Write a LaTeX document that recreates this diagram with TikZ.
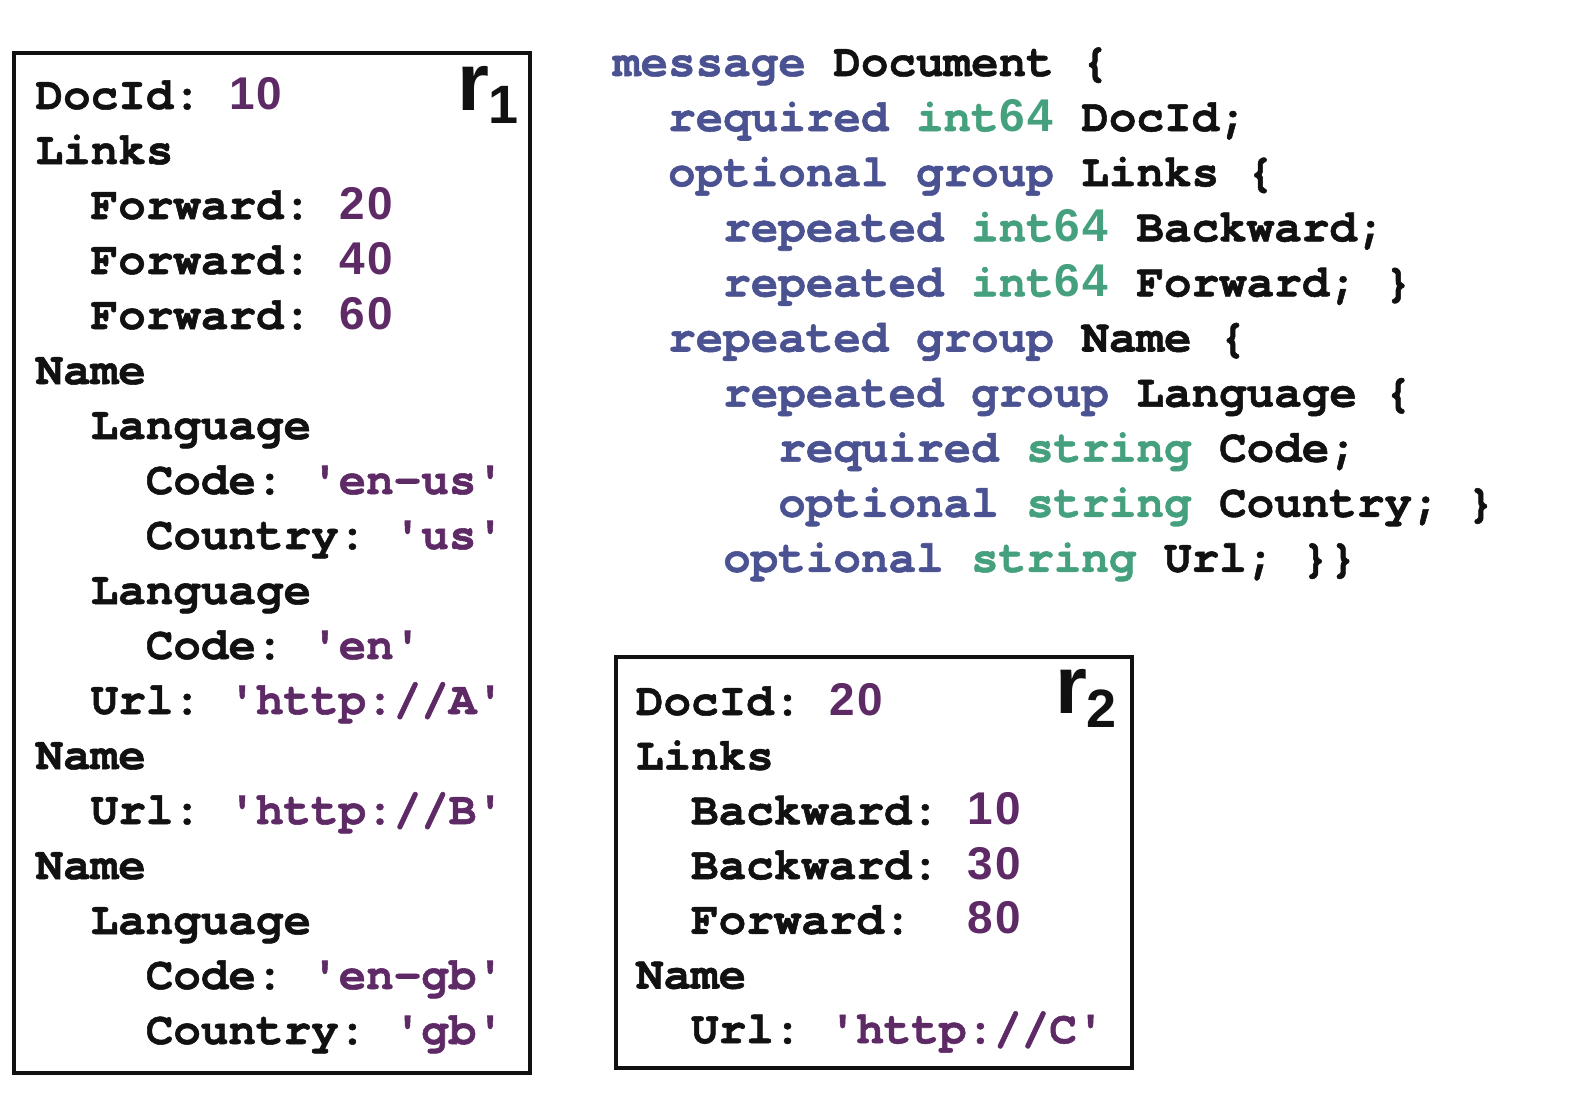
\documentclass[tikz,border=0pt]{standalone}
\usepackage{fontspec}
\IfFontExistsTF{TeX Gyre Cursor}{\newfontfamily\cour{TeX Gyre Cursor}[BoldFeatures={FakeBold=1.2}]}{\newfontfamily\cour{Liberation Mono}}
\newfontfamily\arl{Liberation Sans}
\definecolor{kwc}{HTML}{4A5292}
\definecolor{tyc}{HTML}{45A07E}
\definecolor{vlc}{HTML}{5E2A66}
\definecolor{txc}{HTML}{111111}
\newcommand\dg[1]{\makebox[0.6em][c]{\arl\bfseries #1}}
\newcommand\kw[1]{\textcolor{kwc}{#1}}
\newcommand\ty[1]{\textcolor{tyc}{#1}}
\newcommand\vl[1]{\textcolor{vlc}{#1}}
\tikzset{
  ln/.style={anchor=base west, inner sep=0pt, outer sep=0pt, text=txc,
    font=\cour\bfseries\fontsize{22.96pt}{27.55pt}\selectfont\frenchspacing},
  rlab/.style={anchor=base west, inner sep=0pt, outer sep=0pt, text=txc,
    font=\arl\bfseries\fontsize{41pt}{41pt}\selectfont},
  recbox/.style={draw=txc, line width=1.7pt}
}
\begin{document}
\begin{tikzpicture}[x=0.5pt,y=-0.5pt]
\useasboundingbox (0,0) rectangle (1592,1098);
% record r1
\draw[recbox] (14,53) rectangle (530,1073);
\node[rlab] (r1) at (457,110) {r\raisebox{-6.5pt}{\fontsize{27pt}{27pt}\selectfont 1}};
\node[ln] (a0)  at (35.6,109.0)  {DocId: \vl{\dg1\dg0}};
\node[ln] (a1)  at (35.6,164.0)  {Links};
\node[ln] (a2)  at (90.7,219.0)  {Forward: \vl{\dg2\dg0}};
\node[ln] (a3)  at (90.7,274.0)  {Forward: \vl{\dg4\dg0}};
\node[ln] (a4)  at (90.7,329.0)  {Forward: \vl{\dg6\dg0}};
\node[ln] (a5)  at (35.6,384.0)  {Name};
\node[ln] (a6)  at (90.7,439.0)  {Language};
\node[ln] (a7)  at (145.8,494.0) {Code: \vl{'en-us'}};
\node[ln] (a8)  at (145.8,549.0) {Country: \vl{'us'}};
\node[ln] (a9)  at (90.7,604.0)  {Language};
\node[ln] (a10) at (145.8,659.0) {Code: \vl{'en'}};
\node[ln] (a11) at (90.7,714.0)  {Url: \vl{'http://A'}};
\node[ln] (a12) at (35.6,769.0)  {Name};
\node[ln] (a13) at (90.7,824.0)  {Url: \vl{'http://B'}};
\node[ln] (a14) at (35.6,879.0)  {Name};
\node[ln] (a15) at (90.7,934.0)  {Language};
\node[ln] (a16) at (145.8,989.0) {Code: \vl{'en-gb'}};
\node[ln] (a17) at (145.8,1044.0){Country: \vl{'gb'}};
% schema
\node[ln] (c0) at (613,76)    {\kw{message} Document \{};
\node[ln] (c1) at (668.1,131.1) {\kw{required} \ty{int\dg6\dg4} DocId;};
\node[ln] (c2) at (668.1,186.2) {\kw{optional group} Links \{};
\node[ln] (c3) at (723.2,241.3) {\kw{repeated} \ty{int\dg6\dg4} Backward;};
\node[ln] (c4) at (723.2,296.4) {\kw{repeated} \ty{int\dg6\dg4} Forward; \}};
\node[ln] (c5) at (668.1,351.5) {\kw{repeated group} Name \{};
\node[ln] (c6) at (723.2,406.6) {\kw{repeated group} Language \{};
\node[ln] (c7) at (778.3,461.7) {\kw{required} \ty{string} Code;};
\node[ln] (c8) at (778.3,516.8) {\kw{optional} \ty{string} Country; \}};
\node[ln] (c9) at (723.2,571.9) {\kw{optional} \ty{string} Url; \}\}};
% record r2
\draw[recbox] (616,657) rectangle (1132,1068);
\node[rlab] (r2) at (1055,713) {r\raisebox{-7pt}{\fontsize{27pt}{27pt}\selectfont 2}};
\node[ln] (b0) at (636,715.0)   {DocId: \vl{\dg2\dg0}};
\node[ln] (b1) at (636,769.7)   {Links};
\node[ln] (b2) at (691.1,824.4) {Backward: \vl{\dg1\dg0}};
\node[ln] (b3) at (691.1,879.1) {Backward: \vl{\dg3\dg0}};
\node[ln] (b4) at (691.1,933.8) {Forward: \ \vl{\dg8\dg0}};
\node[ln] (b5) at (636,988.5)   {Name};
\node[ln] (b6) at (691.1,1043.2){Url: \vl{'http://C'}};
\end{tikzpicture}
\end{document}
